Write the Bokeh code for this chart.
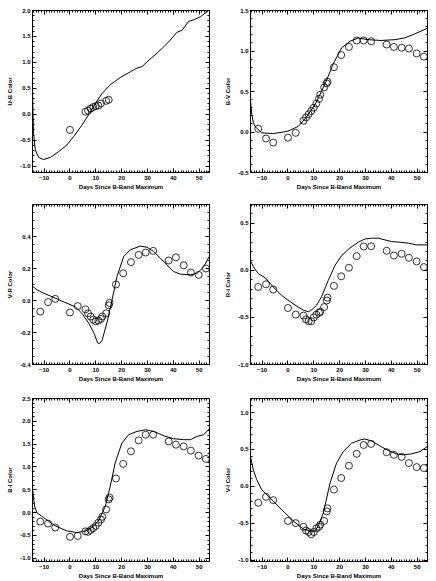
from bokeh.plotting import figure
from bokeh.layouts import gridplot
from bokeh.models import (Range1d, LinearAxis, SingleIntervalTicker, NumeralTickFormatter,
                          CustomLabelingPolicy)
from bokeh.embed import file_html
from bokeh.resources import INLINE

FONT = "Liberation Sans"
X_LABEL = "Days Since B-Band Maximum"

# ---------------- data ----------------
ub_days = [0, 6, 7, 8, 9, 10, 11, 12, 14, 15]
ub = [-0.30, 0.05, 0.07, 0.11, 0.14, 0.16, 0.17, 0.21, 0.26, 0.28]
ub_model_days = [-14.5, -14.3, -14.1, -13.4, -12.1, -10.2, -7.6, -4.4, -1.2, 1.4, 4.6, 7.2, 9.8, 12.4,
                 15.6, 19.5, 23.4, 25.9, 27.9, 29.8, 33.7, 36.3, 38.8, 41.4, 43.4, 45.9, 47.9, 50.5, 53.9]
ub_model = [0.40, 0.0, -0.37, -0.69, -0.83, -0.87, -0.83, -0.72, -0.59, -0.43, -0.21, -0.01, 0.21, 0.40,
            0.57, 0.71, 0.82, 0.89, 0.92, 1.01, 1.18, 1.30, 1.43, 1.58, 1.62, 1.79, 1.82, 1.88, 2.01]

obs_days = [-11.5, -8.5, -5.7, 0, 3, 6, 7, 8, 9, 10, 11, 12, 12.5, 14, 15, 15.3,
            17.8, 20.6, 23.6, 26.6, 29.3, 32.2, 38.2, 41.0, 44.0, 46.8, 49.8, 52.6]

bv = [0.04, -0.08, -0.13, -0.07, -0.01, 0.14, 0.18, 0.22, 0.26, 0.30, 0.35, 0.41, 0.46, 0.55, 0.60, 0.62,
      0.80, 0.95, 1.05, 1.13, 1.13, 1.12, 1.08, 1.05, 1.04, 1.03, 0.97, 0.93]
bv_model_days = [-14.5, -14.0, -13.4, -12.8, -10.2, -5.7, 0, 4, 6.6, 10.5, 14.3, 17.5, 20.8, 24, 27.2,
                 31, 36, 41.4, 45, 49, 53.9]
bv_model = [0.38, 0.22, 0.12, 0.07, -0.01, -0.02, 0.01, 0.07, 0.16, 0.34, 0.59, 0.84, 1.04, 1.12, 1.16,
            1.14, 1.13, 1.14, 1.16, 1.21, 1.28]

vr = [-0.07, -0.01, 0.01, -0.075, -0.035, -0.055, -0.08, -0.10, -0.12, -0.13, -0.125, -0.115, -0.10, -0.08,
      -0.03, -0.015, 0.10, 0.17, 0.24, 0.285, 0.30, 0.31, 0.25, 0.27, 0.22, 0.175, 0.16, 0.20]
vr_model_days = [-14.5, -12.8, -10.2, -5.7, -1.2, 2.1, 4.6, 7.2, 9.2, 10.7, 11.4, 12.4, 14.3, 16.3, 18.2,
                 20.8, 23.4, 27.2, 29.8, 32.4, 35, 37.5, 40.1, 42.7, 46.6, 49.2, 51.7, 53.9]
vr_model = [0.09, 0.067, 0.046, 0.015, -0.017, -0.04, -0.08, -0.14, -0.20, -0.265, -0.27, -0.25, -0.14,
            0.004, 0.15, 0.275, 0.317, 0.34, 0.333, 0.306, 0.265, 0.223, 0.181, 0.165, 0.16, 0.17, 0.21, 0.275]

ri = [-0.176, -0.148, -0.204, -0.40, -0.47, -0.48, -0.52, -0.54, -0.54, -0.50, -0.47, -0.45, -0.44, -0.39,
      -0.32, -0.29, -0.165, -0.063, 0.028, 0.151, 0.254, 0.257, 0.208, 0.158, 0.176, 0.134, 0.095, 0.035]
ri_model_days = [-14.5, -13.4, -11.5, -8.9, -5.7, -2.5, 0, 3.4, 6, 7.9, 9.2, 11.1, 13, 15.6, 18.2, 20.8,
                 24, 27.2, 29.8, 32.4, 35, 37.5, 40.1, 43.4, 46.6, 49.8, 53.9]
ri_model = [0.10, 0.04, -0.035, -0.077, -0.176, -0.264, -0.317, -0.38, -0.423, -0.44, -0.42, -0.37, -0.28,
            -0.106, 0.053, 0.158, 0.239, 0.299, 0.334, 0.342, 0.342, 0.324, 0.306, 0.299, 0.289, 0.271, 0.271]

bi = [-0.196, -0.24, -0.327, -0.53, -0.51, -0.41, -0.42, -0.38, -0.34, -0.29, -0.22, -0.15, -0.09, 0.07,
      0.29, 0.33, 0.748, 1.068, 1.343, 1.583, 1.707, 1.707, 1.561, 1.489, 1.452, 1.358, 1.249, 1.176]
bi_model_days = [-14.5, -13.7, -12.8, -10.2, -5.7, -1.2, 2.7, 6, 8.5, 11.1, 13.7, 15.6, 17.5, 20.1, 22.7,
                 25.9, 29.2, 32.4, 36.3, 40.1, 44, 46.6, 49.2, 51.7, 53.9]
bi_model = [0.51, 0.145, 0.0, -0.109, -0.29, -0.40, -0.436, -0.40, -0.327, -0.18, 0.145, 0.581, 1.089,
            1.525, 1.707, 1.779, 1.816, 1.779, 1.685, 1.619, 1.598, 1.598, 1.67, 1.707, 1.83]

vi = [-0.224, -0.143, -0.188, -0.47, -0.50, -0.55, -0.60, -0.62, -0.65, -0.62, -0.57, -0.55, -0.52, -0.47,
      -0.34, -0.30, -0.045, 0.112, 0.278, 0.44, 0.56, 0.574, 0.462, 0.426, 0.399, 0.314, 0.26, 0.247]
vi_model_days = [-14.5, -13.4, -12.1, -10.2, -5.7, -1.2, 2.7, 6, 8.5, 10.5, 11.7, 13.7, 16.3, 18.8, 21.4,
                 24.6, 27.9, 29.8, 32.4, 35.6, 38.8, 42, 44.6, 47.9, 51.1, 53.9]
vi_model = [0.40, 0.224, 0.09, -0.045, -0.2, -0.36, -0.49, -0.58, -0.605, -0.605, -0.54, -0.36, 0.045,
            0.314, 0.471, 0.583, 0.628, 0.641, 0.614, 0.547, 0.484, 0.44, 0.426, 0.44, 0.471, 0.538]

X_RANGE = (-14.5, 54.0)

panels = [
    # label, obs x, obs y, model x, model y, y range, tick interval, minor count
    ("U-B Color", ub_days, ub, ub_model_days, ub_model, (-1.12, 2.0), 0.5, 5),
    ("B-V Color", obs_days, bv, bv_model_days, bv_model, (-0.5, 1.5), 0.5, 5),
    ("V-R Color", obs_days, vr, vr_model_days, vr_model, (-0.4, 0.6), 0.2, 4),
    ("R-I Color", obs_days, ri, ri_model_days, ri_model, (-1.0, 0.7), 0.5, 5),
    ("B-I Color", obs_days, bi, bi_model_days, bi_model, (-1.07, 2.5), 0.5, 5),
    ("V-I Color", obs_days, vi, vi_model_days, vi_model, (-1.02, 1.19), 0.5, 5),
]

# layout: (height, border_top, border_bottom) per row; (border_left, border_right) per col
ROWS = [(194, 10, 22), (194, 10, 24), (193, 10, 18)]
COLS = [(32, 9), (32, 9)]
WIDTH = 218


def style_axis(ax):
    ax.axis_line_color = "black"
    ax.axis_line_width = 1
    ax.major_tick_line_color = "black"
    ax.minor_tick_line_color = "black"
    ax.major_tick_in = 4
    ax.major_tick_out = 0
    ax.minor_tick_in = 2
    ax.minor_tick_out = 0
    ax.major_label_text_font = FONT
    ax.major_label_text_font_size = "6px"
    ax.major_label_text_font_style = "bold"
    ax.major_label_text_color = "black"
    ax.major_label_standoff = 3
    ax.axis_label_text_font = FONT
    ax.axis_label_text_font_size = "6px"
    ax.axis_label_text_font_style = "bold"
    ax.axis_label_text_color = "black"
    ax.axis_label_standoff = 1


figs = []
for i, (label, ox, oy, mx, my, yr, yint, ymin) in enumerate(panels):
    r, c = divmod(i, 2)
    h, bt, bb = ROWS[r]
    bl, br = COLS[c]
    p = figure(width=WIDTH, height=h, output_backend="svg", toolbar_location=None,
               x_range=Range1d(*X_RANGE), y_range=Range1d(*yr),
               min_border_left=bl, min_border_right=br, min_border_top=bt, min_border_bottom=bb,
               x_axis_label=X_LABEL, y_axis_label=label)
    p.background_fill_color = "white"
    p.border_fill_color = "white"
    p.outline_line_color = "black"
    p.outline_line_width = 1
    p.xgrid.visible = False
    p.ygrid.visible = False

    xt = SingleIntervalTicker(interval=10, num_minor_ticks=10)
    yt = SingleIntervalTicker(interval=yint, num_minor_ticks=ymin)
    p.xaxis.ticker = xt
    p.yaxis.ticker = yt
    p.yaxis.formatter = NumeralTickFormatter(format="0.0")
    for ax in p.xaxis + p.yaxis:
        style_axis(ax)
    for ax in p.yaxis:
        ax.major_label_standoff = 2
        ax.axis_label_standoff = 4

    for loc, tk in (("above", xt), ("right", yt)):
        ax = LinearAxis(ticker=tk)
        style_axis(ax)
        ax.major_label_text_font_size = "0px"
        ax.major_label_standoff = 0
        ax.major_label_policy = CustomLabelingPolicy(code="return []")
        p.add_layout(ax, loc)

    p.line(mx, my, line_color="black", line_width=1)
    p.scatter(ox, oy, marker="circle", size=7, fill_color=None, line_color="black", line_width=0.8)
    figs.append(p)

grid = gridplot([[figs[0], figs[1]], [figs[2], figs[3]], [figs[4], figs[5]]],
                toolbar_location=None)

open("out.html", "w").write(file_html(grid, INLINE))
